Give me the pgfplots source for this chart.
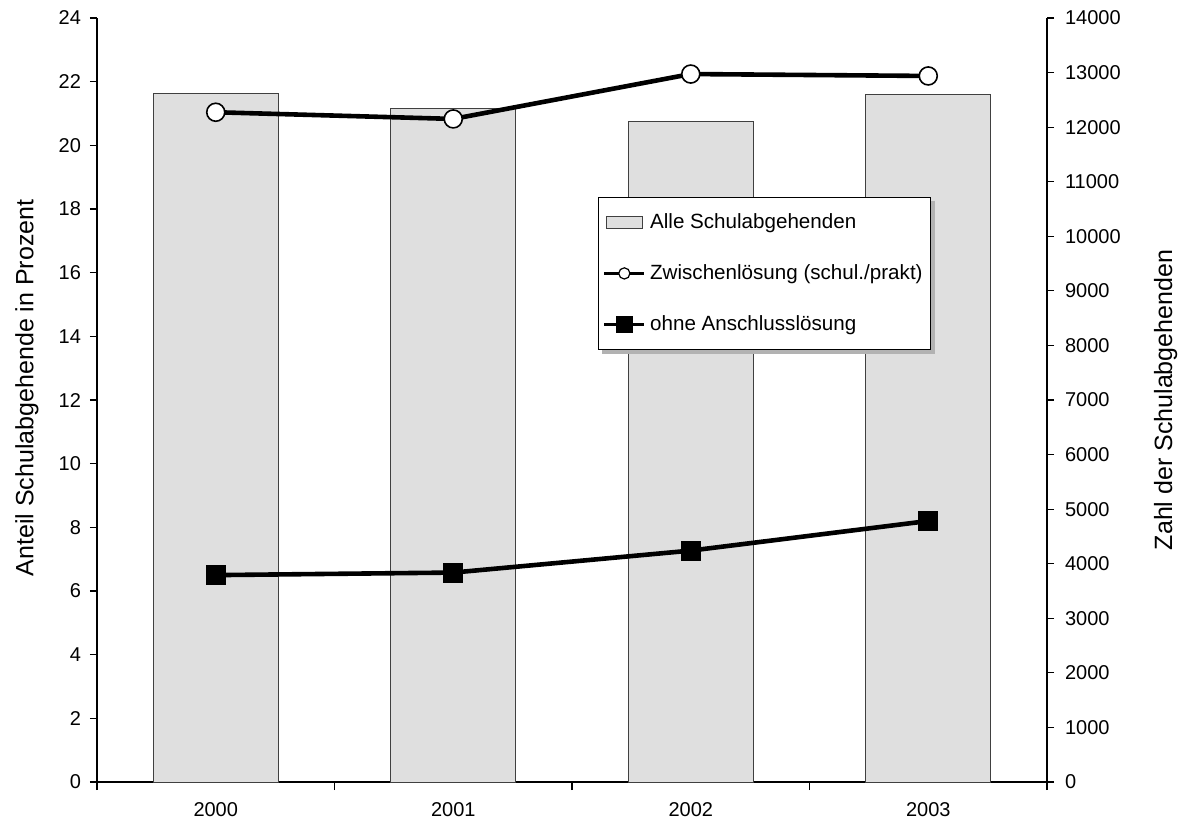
\documentclass[border=0pt]{standalone}
\usepackage{pgfplots}
\pgfplotsset{compat=1.18}
\usepackage{fontspec}
\setmainfont{Liberation Sans}
\definecolor{barfill}{HTML}{DFDFDF}

\begin{document}
\begin{tikzpicture}
\pgfplotsset{
  every axis/.append style={
    scale only axis, width=475pt, height=382pt,
    xmin=-0.5, xmax=3.5,
    tick align=outside, tick style={black, line width=0.6pt},
    axis line style={line width=0.9pt},
    major tick length=3.5pt,
    tick label style={font=\fontsize{10}{12}\selectfont},
    /pgf/number format/assume math mode=true,
  },
}
% bars on the right axis
\begin{axis}[
  axis x line*=bottom, axis y line*=right,
  ymin=0, ymax=14000,
  ytick={0,1000,...,14000},
  scaled y ticks=false,
  yticklabel style={/pgf/number format/1000 sep={}, xshift=2pt},
  xtick={0,1,2,3},
  xticklabels={2000,2001,2002,2003},
  every major x tick/.append style={draw=none},
  minor xtick={-0.5,0.5,1.5,2.5,3.5},
  every minor x tick/.append style={draw=black, line width=0.6pt},
  minor tick length=4pt,
  xticklabel style={yshift=-3pt},
  ylabel={Zahl der Schulabgehenden},
  ylabel style={font=\fontsize{12.5}{14}\selectfont, at={(axis description cs:1.125,0.5)}, anchor=center, rotate=0},
]
\addplot[ybar, bar width=0.526, fill=barfill, draw=black!75, line width=0.5pt]
  coordinates {(0,12617) (1,12333) (2,12095) (3,12590)};
\end{axis}
% shares on the left axis
\begin{axis}[
  axis x line=none, axis y line*=left,
  ymin=0, ymax=24,
  ytick={0,2,...,24},
  yticklabel style={xshift=-1pt},
  ylabel={Anteil Schulabgehende in Prozent},
  ylabel style={font=\fontsize{12.5}{14}\selectfont, at={(axis description cs:-0.0737,0.516)}, anchor=center},
  legend style={name=leg, at={(0.5274,0.7657)}, anchor=north west, draw=black, line width=0.5pt,
    font=\fontsize{10.3}{12}\selectfont, row sep=12.5pt, inner xsep=2pt, inner ysep=6pt,
    cells={anchor=west}},
]
\addlegendimage{legend image code/.code={
  \draw[fill=barfill, draw=black!75, line width=0.5pt] (1pt,-2.8pt) rectangle (19pt,2.8pt);}}
\addlegendentry{Alle Schulabgehenden}
\addplot[black, line width=2.3pt, mark=*, mark size=4.5pt,
  mark options={fill=white, line width=0.8pt},
  legend image code/.code={
    \draw[black, line width=1.8pt] (0pt,0pt) -- (20pt,0pt);
    \draw[black, fill=white, line width=0.6pt] (10pt,0pt) circle (2.8pt);}]
  coordinates {(0,21.04) (1,20.83) (2,22.24) (3,22.18)};
\addlegendentry{Zwischenlösung (schul./prakt)}
\addplot[black, line width=2.3pt, mark=square*, mark size=4.75pt,
  mark options={fill=black, line width=0.5pt},
  legend image code/.code={
    \draw[black, line width=1.8pt] (0pt,0pt) -- (20pt,0pt);
    \fill[black] (7pt,-3pt) rectangle (13pt,3pt);}]
  coordinates {(0,6.50) (1,6.58) (2,7.27) (3,8.20)};
\addlegendentry{ohne Anschlusslösung}
% page extent as in the reference
\coordinate (bbsw) at (axis description cs:-0.1021,-0.0484);
\coordinate (bbne) at (axis description cs:1.1463,1.0236);
\end{axis}
% legend shadow
\fill[gray!60] ([xshift=2pt]leg.south west) rectangle ([xshift=2pt,yshift=-2pt]leg.south east);
\fill[gray!60] ([yshift=-2pt]leg.north east) rectangle ([xshift=2pt,yshift=-2pt]leg.south east);
\pgfresetboundingbox
\path[use as bounding box] (bbsw) rectangle (bbne);
\end{tikzpicture}
\end{document}
